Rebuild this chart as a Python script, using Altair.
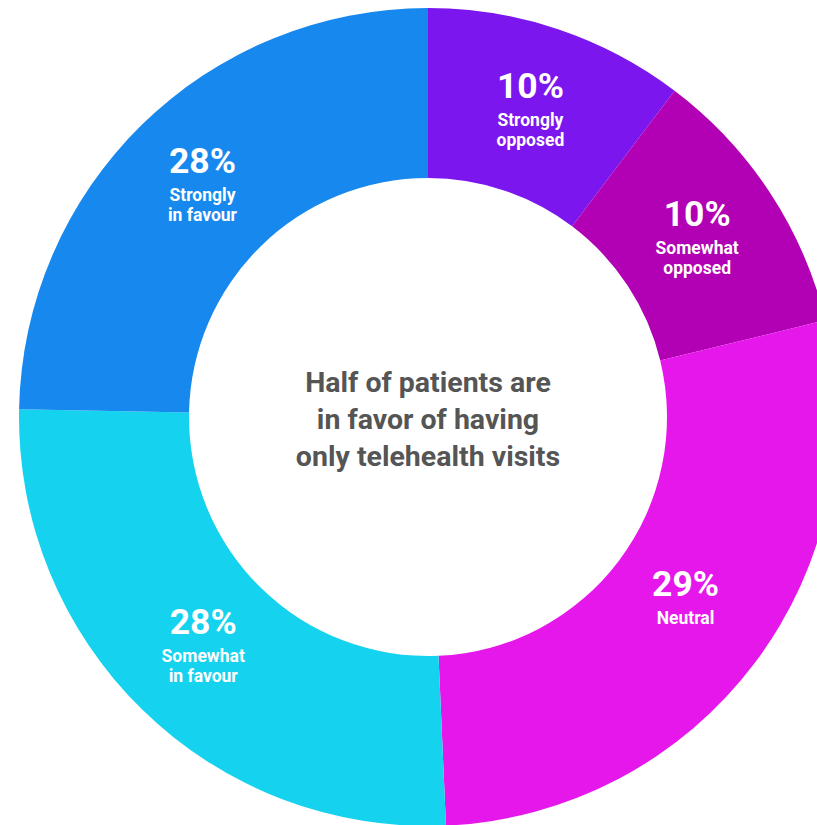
import altair as alt
import pandas as pd

# Data
categories = ["Strongly opposed", "Somewhat opposed", "Neutral", "Somewhat in favour", "Strongly in favour"]
label_lines = ["Strongly\nopposed", "Somewhat\nopposed", "Neutral", "Somewhat\nin favour", "Strongly\nin favour"]
pct_labels = [10, 10, 29, 28, 28]          # printed percentages
arc_share = [10.3, 10.9, 28.1, 26.0, 24.7]  # measured arc sizes (% of circle)
colors = ["#7B16EE", "#B200B4", "#E617EB", "#15D2EE", "#1788EE"]
center_title = "Half of patients are\nin favor of having\nonly telehealth visits"

df = pd.DataFrame({
    "cat": categories,
    "label": label_lines,
    "pct": pct_labels,
    "share": arc_share,
    "idx": list(range(len(categories))),
})

CX, CY = 428, 417
FONT = "Roboto"

base = alt.Chart(df).encode(
    theta=alt.Theta("share:Q", stack=True),
    order=alt.Order("idx:Q", sort="ascending"),
    x=alt.value(CX),
    y=alt.value(CY),
)

arcs = base.mark_arc(outerRadius=409, innerRadius=239, stroke=None).encode(
    color=alt.Color("cat:N", scale=alt.Scale(domain=categories, range=colors), legend=None)
)

pct_text = base.transform_calculate(
    ptxt="datum.pct + '%'",
).mark_text(
    radius=322, font=FONT, fontSize=35.5, fontWeight="bold", color="white",
    align="center", baseline="middle", dy=-25,
).encode(text=alt.Text("ptxt:N"), detail="cat:N")

lab_text = base.mark_text(
    radius=322, font=FONT, fontSize=17.5, fontWeight="bold", color="white",
    align="center", baseline="middle", lineHeight=20, dy=9, lineBreak="\n",
).encode(text=alt.Text("label:N"), detail="cat:N")

center = alt.Chart(pd.DataFrame({"t": [center_title]})).mark_text(
    font=FONT, fontSize=28.5, fontWeight="bold", color="#555555",
    align="center", baseline="middle", lineHeight=37, lineBreak="\n",
).encode(text="t:N", x=alt.value(CX), y=alt.value(383))

chart = alt.layer(arcs, pct_text, lab_text, center).properties(
    width=817, height=825, padding=0, autosize=alt.AutoSizeParams(type="none"),
    background="white",
).configure_view(stroke=None)

chart.save("out.html", embed_options={"renderer": "svg", "actions": False})
